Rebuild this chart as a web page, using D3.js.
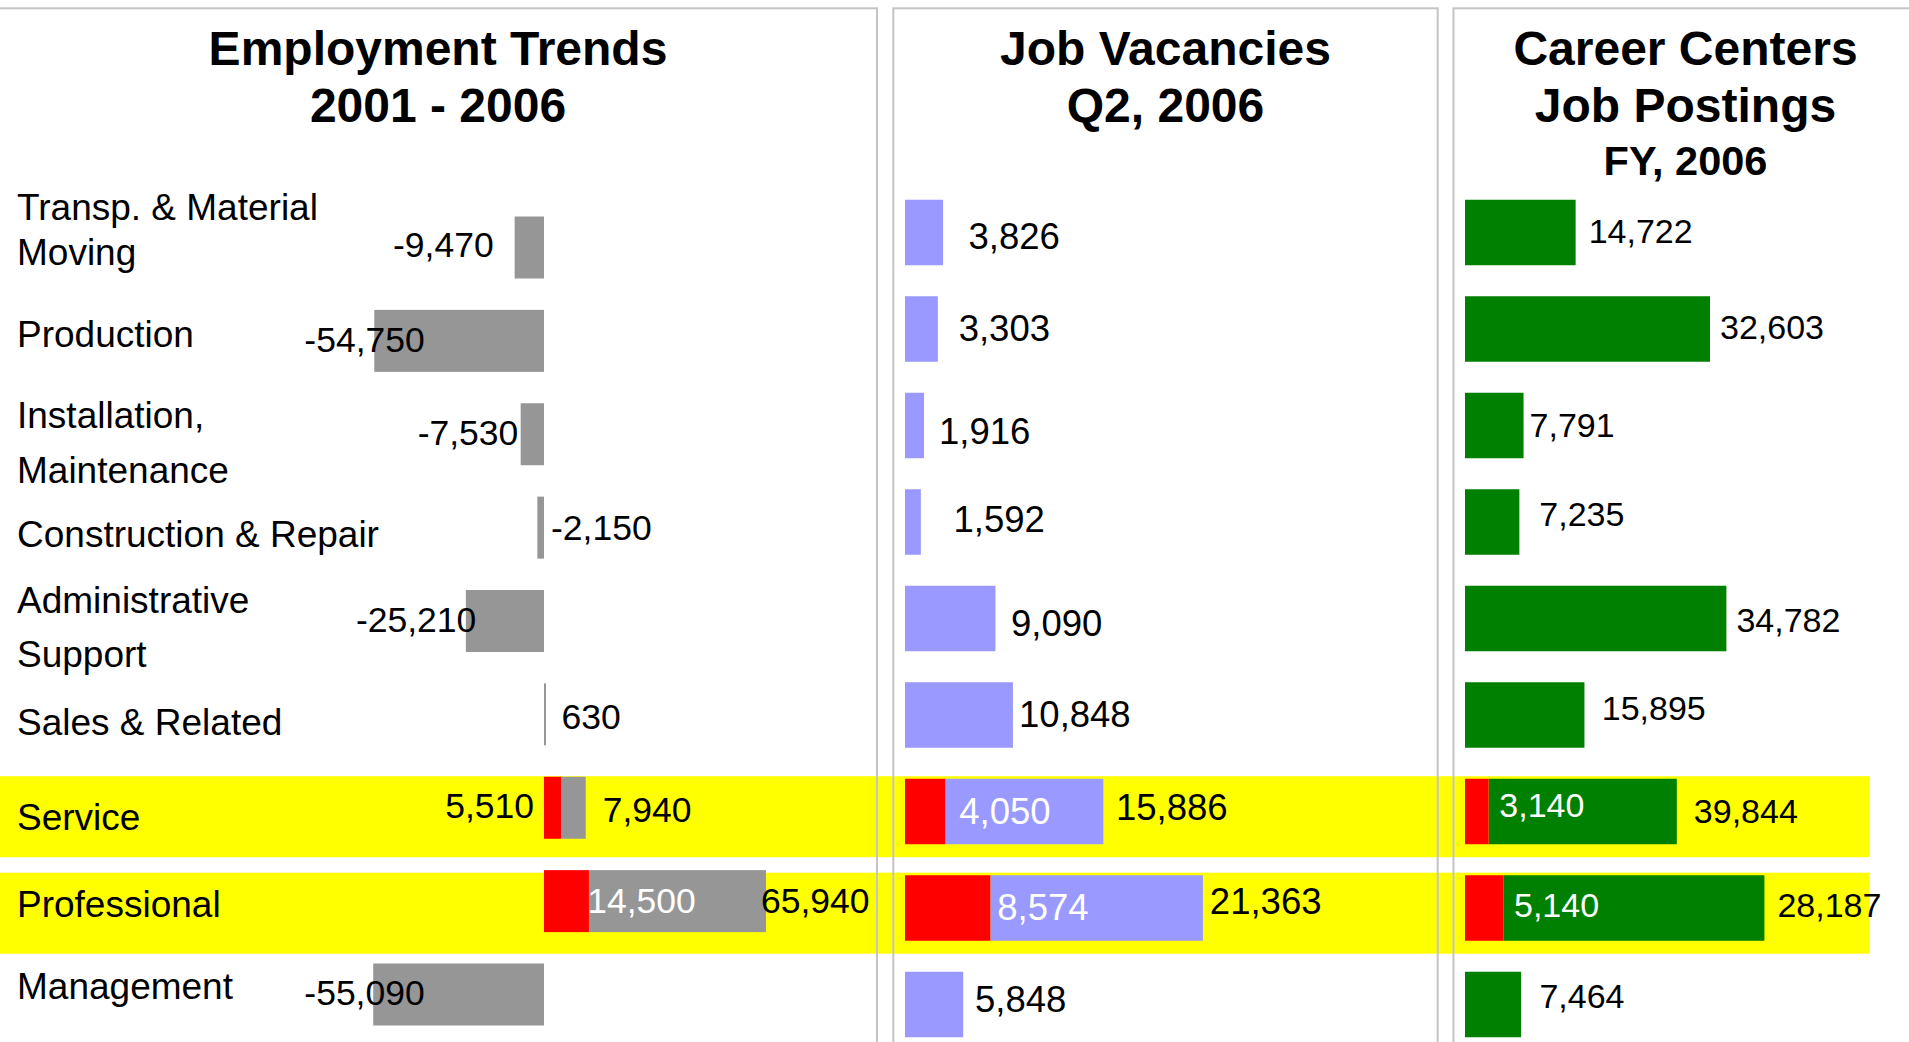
<!DOCTYPE html>
<html>
<head>
<meta charset="utf-8">
<script src="https://cdn.jsdelivr.net/npm/d3@7"></script>
<style>
  body { margin: 0; background: #fff; overflow: hidden; }
  text { font-family: "Liberation Sans", Arial, sans-serif; }
</style>
</head>
<body>
<div id="viz"></div>
<script>
// occupation groups, one per row (label lines)
var categories = [
	["Transp. & Material", "Moving"],
	["Production"],
	["Installation,", "Maintenance"],
	["Construction & Repair"],
	["Administrative", "Support"],
	["Sales & Related"],
	["Service"],
	["Professional"],
	["Management"]
];
var highlightRows = [6, 7];

// employment trends 2001 - 2006: gray bar as drawn, its label, and red part
var trendBar    = [-9470, -54750, -7530, -2150, -25210, 630, 7940, 57100, -55090];
var trendLabels = [-9470, -54750, -7530, -2150, -25210, 630, 7940, 65940, -55090];
var trendPart   = [0, 0, 0, 0, 0, 0, 5510, 14500, 0];

// job vacancies Q2 2006 (purple) and red part
var vacancies   = [3826, 3303, 1916, 1592, 9090, 10848, 15886, 21363, 5848];
var vacancyPart = [0, 0, 0, 0, 0, 0, 4050, 8574, 0];

// career centers job postings FY 2006: bar total as drawn, label, red part
var postings      = [14722, 32603, 7791, 7235, 34782, 15895, 28187, 39844, 7464];
var postingLabels = [14722, 32603, 7791, 7235, 34782, 15895, 39844, 28187, 7464];
var postingPart   = [0, 0, 0, 0, 0, 0, 3140, 5140, 0];

// plain hyphen for negatives, like the original
var fmt = d3.formatLocale({decimal: '.', thousands: ',', grouping: [3],
	currency: ['$', ''], minus: '-'}).format(',');

// create an svg - everything will be drawn on this
var svg = d3.select('#viz').append('svg')
	.attr('width', 1909)
	.attr('height', 1042);

var rows = d3.range(categories.length);

// vertical scales: the left panel rows sit a bit tighter than the other two
var yLeft = d3.scaleLinear().domain([0, 8]).range([247.5, 994.5]);
var yRight = d3.scaleLinear().domain([0, 8]).range([232.5, 1004.5]);

// horizontal scales per panel
var xTrend = d3.scaleLinear().domain([0, 100000]).range([544, 854]);
var xVac = d3.scaleLinear().domain([0, 10000]).range([905, 1004.5]);
var xPost = d3.scaleLinear().domain([0, 10000]).range([1465, 1540.15]);

// label nudges (layout only)
var rowLabelDy = [[-27.5, 17.5], [5.8], [-6, 48.5], [19], [-8.3, 45.7], [20.6], [22.3], [15.6], [4.8]];
var trendDx = [-21, 50.5, -2.3, 13.7, 10.5, 15.5, 17, -5, 51.5];
var trendDy = [9, 11, 11, 12.5, 11, 15, 14, 12, 10.5];
var trendAnchor = ['end', 'end', 'end', 'start', 'end', 'start', 'start', 'start', 'end'];
var vacDx = [25.5, 20.8, 14.9, 32.7, 15.6, 6.1, 12.6, 7, 11.8];
var vacDy = [16.8, 11.9, 18, 10.4, 17.1, 11.5, 8.9, 5.6, 7.4];
var postDx = [13, 10, 6, 20, 10, 17.3, 17, 13, 18.3];
var postDy = [10.8, 10.3, 11.2, 4, 13.8, 5, 11.8, 9.3, 3.8];
var partDx = {vac: [14, 7], post: [10.7, 10.4]};
var partDy = {vac: [12.2, 12.3], post: [5.2, 8.7]};

// yellow highlight bands across all panels
svg.selectAll('rect.band')
	.data(highlightRows).enter()
	.append('rect')
	.attr('class', 'band')
	.attr('x', 0)
	.attr('width', 1869)
	.attr('y', function(d) { return yRight(d) - 35.3; })
	.attr('height', 81)
	.attr('fill', '#ffff00');

// panel frames
var panels = [
	{x: -5, w: 882},
	{x: 893.3, w: 544.4},
	{x: 1453.5, w: 470}
];
svg.selectAll('rect.panel')
	.data(panels).enter()
	.append('rect')
	.attr('class', 'panel')
	.attr('x', function(d) { return d.x; })
	.attr('y', 8.3)
	.attr('width', function(d) { return d.w; })
	.attr('height', 1100)
	.attr('fill', 'none')
	.attr('stroke', '#c4c4c4')
	.attr('stroke-width', 2);

// titles
function title(cx, lines) {
	var g = svg.append('g').attr('class', 'title');
	lines.forEach(function(l) {
		g.append('text')
			.attr('x', cx)
			.attr('y', l.y)
			.attr('text-anchor', 'middle')
			.attr('font-weight', 'bold')
			.attr('font-size', l.size)
			.attr('fill', '#000')
			.text(l.t);
	});
}
title(438, [{t: 'Employment Trends', y: 65, size: 48}, {t: '2001 - 2006', y: 121.7, size: 48}]);
title(1165.5, [{t: 'Job Vacancies', y: 65, size: 48}, {t: 'Q2, 2006', y: 121.7, size: 48}]);
title(1685.5, [{t: 'Career Centers', y: 65, size: 48}, {t: 'Job Postings', y: 121.7, size: 48},
	{t: 'FY, 2006', y: 175, size: 41.5}]);

// row labels
var labels = svg.append('g').attr('id', 'rowLabels');
rows.forEach(function(i) {
	categories[i].forEach(function(line, k) {
		labels.append('text')
			.attr('x', 17)
			.attr('y', yLeft(i) + rowLabelDy[i][k])
			.attr('font-size', 37)
			.text(line);
	});
});

// ---- employment trends panel ----
var trend = svg.append('g').attr('id', 'trend');
var hL = 62;

// red parts
trend.selectAll('rect.part')
	.data(rows.filter(function(i) { return trendPart[i] > 0; })).enter()
	.append('rect')
	.attr('class', 'part')
	.attr('x', xTrend(0))
	.attr('y', function(i) { return yLeft(i) - hL / 2; })
	.attr('width', function(i) { return xTrend(trendPart[i]) - xTrend(0); })
	.attr('height', hL)
	.attr('fill', '#ff0000');

// gray bars, stacked after the red part
trend.selectAll('rect.bar')
	.data(rows).enter()
	.append('rect')
	.attr('class', 'bar')
	.attr('x', function(i) {
		var s = trendPart[i];
		return Math.min(xTrend(s), xTrend(s + trendBar[i]));
	})
	.attr('y', function(i) { return yLeft(i) - hL / 2; })
	.attr('width', function(i) {
		var s = trendPart[i];
		return Math.abs(xTrend(s + trendBar[i]) - xTrend(s));
	})
	.attr('height', hL)
	.attr('fill', '#969696');

trend.selectAll('text.value')
	.data(rows).enter()
	.append('text')
	.attr('class', 'value')
	.attr('x', function(i) { return xTrend(trendPart[i] + trendBar[i]) + trendDx[i]; })
	.attr('y', function(i) { return yLeft(i) + trendDy[i]; })
	.attr('text-anchor', function(i) { return trendAnchor[i]; })
	.attr('font-size', 35.5)
	.text(function(i) { return fmt(trendLabels[i]); });

// red-part labels: Service sits left of the axis, Professional inside the bar
trend.append('text')
	.attr('x', xTrend(0) - 10)
	.attr('y', yLeft(6) + 10.5)
	.attr('text-anchor', 'end')
	.attr('font-size', 35.5)
	.text(fmt(trendPart[6]));
trend.append('text')
	.attr('x', xTrend(trendPart[7]) - 1.7)
	.attr('y', yLeft(7) + 12)
	.attr('font-size', 35.5)
	.attr('fill', '#fff')
	.text(fmt(trendPart[7]));

// ---- stacked panels (vacancies, postings) ----
function stackedPanel(id, x, total, part, labelVals, color, dx, dy, pdx, pdy, size, partIsExtra) {
	var g = svg.append('g').attr('id', id);
	var h = 65.5;

	g.selectAll('rect.bar')
		.data(rows).enter()
		.append('rect')
		.attr('class', 'bar')
		.attr('x', function(i) { return x(part[i]) ; })
		.attr('y', function(i) { return yRight(i) - h / 2; })
		.attr('width', function(i) {
			var end = partIsExtra ? part[i] + total[i] : total[i];
			return x(end) - x(part[i]);
		})
		.attr('height', h)
		.attr('fill', color);

	var parted = rows.filter(function(i) { return part[i] > 0; });
	g.selectAll('rect.part')
		.data(parted).enter()
		.append('rect')
		.attr('class', 'part')
		.attr('x', x(0))
		.attr('y', function(i) { return yRight(i) - h / 2; })
		.attr('width', function(i) { return x(part[i]) - x(0); })
		.attr('height', h)
		.attr('fill', '#ff0000');

	g.selectAll('text.value')
		.data(rows).enter()
		.append('text')
		.attr('class', 'value')
		.attr('x', function(i) {
			var end = partIsExtra ? part[i] + total[i] : total[i];
			return x(end) + dx[i];
		})
		.attr('y', function(i) { return yRight(i) + dy[i]; })
		.attr('font-size', size)
		.text(function(i) { return fmt(labelVals[i]); });

	g.selectAll('text.partValue')
		.data(parted).enter()
		.append('text')
		.attr('class', 'partValue')
		.attr('x', function(i, k) { return x(part[i]) + pdx[k]; })
		.attr('y', function(i, k) { return yRight(i) + pdy[k]; })
		.attr('font-size', size)
		.attr('fill', '#fff')
		.text(function(i) { return fmt(part[i]); });
}

stackedPanel('vacancies', xVac, vacancies, vacancyPart, vacancies, '#9999ff',
	vacDx, vacDy, partDx.vac, partDy.vac, 36.5, true);
stackedPanel('postings', xPost, postings, postingPart, postingLabels, '#008000',
	postDx, postDy, partDx.post, partDy.post, 34, false);
</script>
</body>
</html>
